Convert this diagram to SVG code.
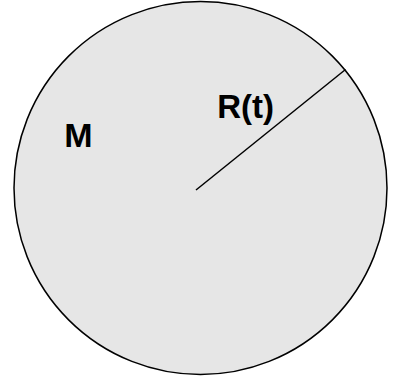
<svg xmlns="http://www.w3.org/2000/svg" width="394" height="378" viewBox="0 0 394 378">
<style>
.lbl{font-family:"Liberation Sans",Arial,sans-serif;font-weight:bold;fill:#000}
</style>
<rect width="394" height="378" fill="#ffffff"/>
<g id="circle">
<circle cx="200.5" cy="188" r="186.5" fill="#e6e6e6" stroke="#000" stroke-width="1.5"/>
<text class="lbl" x="64.2" y="147.3" font-size="34">M</text>
</g>
<g id="connectors">
<line x1="196" y1="190" x2="345.5" y2="69.5" stroke="#000" stroke-width="1.5"/>
</g>
<g id="radius-label">
<text class="lbl" x="217.2" y="117.5" font-size="33">R(t)</text>
</g>
</svg>
